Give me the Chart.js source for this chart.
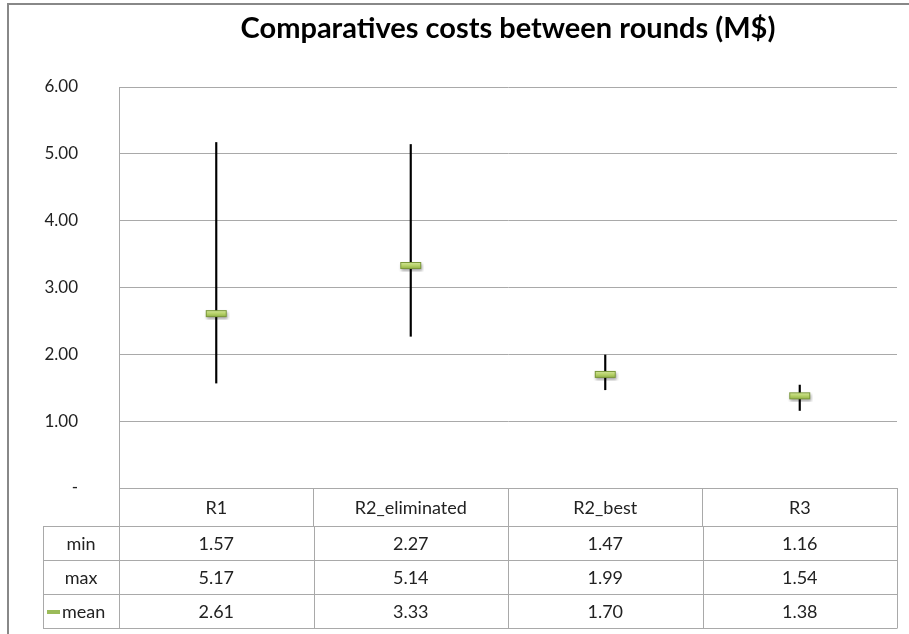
<!DOCTYPE html>
<html>
<head>
<meta charset="utf-8">
<script src="https://cdn.jsdelivr.net/npm/chart.js@4.4.0/dist/chart.umd.min.js"></script>
<style>
  html, body { margin: 0; padding: 0; background: #fff; }
  #wrap { width: 909px; height: 634px; position: relative; }
</style>
</head>
<body>
<div id="wrap"><canvas id="c" width="909" height="634"></canvas></div>
<script>
const categories = ['R1', 'R2_eliminated', 'R2_best', 'R3']
const minCost = [1.57, 2.27, 1.47, 1.16]
const maxCost = [5.17, 5.14, 1.99, 1.54]
const meanCost = [2.61, 3.33, 1.70, 1.38]
const rowLabels = ['min', 'max', 'mean']

const FONT = 'Lato, "Open Sans", sans-serif'
const GRID = '#a9a9a9'
const HEAD_H = 38
const ROW_H = 34
const TABLE_LEFT = 43
const PLOT_LEFT = 119

// little green bar used for the mean marker
function meanMarker() {
  const c = document.createElement('canvas')
  c.width = 27
  c.height = 13
  const g = c.getContext('2d')
  g.shadowColor = 'rgba(0,0,0,0.35)'
  g.shadowBlur = 3
  g.shadowOffsetX = 1
  g.shadowOffsetY = 2
  const grad = g.createLinearGradient(0, 3, 0, 10)
  grad.addColorStop(0, '#d6e6a0')
  grad.addColorStop(0.5, '#b7d36a')
  grad.addColorStop(1, '#8fae45')
  g.fillStyle = grad
  g.fillRect(3, 3, 21, 7)
  g.shadowColor = 'transparent'
  g.strokeStyle = '#7a973a'
  g.lineWidth = 1
  g.strokeRect(3.5, 3.5, 20, 6)
  return c
}

const frame = {
  id: 'frame',
  // centre the title over the plot area instead of the whole canvas
  afterLayout(chart) {
    if (chart.titleBlock) {
      chart.titleBlock.left = chart.chartArea.left
      chart.titleBlock.right = chart.chartArea.right
    }
  },
  beforeDraw(chart) {
    const ctx = chart.ctx
    ctx.save()
    ctx.strokeStyle = '#888'
    ctx.lineWidth = 2
    ctx.beginPath()
    ctx.moveTo(8, 634)
    ctx.lineTo(8, 4)
    ctx.lineTo(909, 4)
    ctx.stroke()
    ctx.restore()
  }
}

const dataTable = {
  id: 'dataTable',
  afterDraw(chart) {
    const ctx = chart.ctx
    const x = chart.scales.x
    const top = chart.chartArea.bottom + HEAD_H
    const step = x.getPixelForValue(1) - x.getPixelForValue(0)
    const rows = [minCost, maxCost, meanCost]
    ctx.save()
    ctx.strokeStyle = GRID
    ctx.lineWidth = 1
    ctx.beginPath()
    for (let r = 0; r <= rows.length; r++) {
      const y = Math.round(top + r * ROW_H) + 0.5
      ctx.moveTo(TABLE_LEFT, y)
      ctx.lineTo(x.right, y)
    }
    const bottom = top + rows.length * ROW_H + 0.5
    const vx = [TABLE_LEFT, x.left]
    categories.forEach((c, i) => vx.push(x.getPixelForValue(i) + step / 2))
    vx.forEach(v => {
      const px = Math.round(v) + 0.5
      ctx.moveTo(px, top)
      ctx.lineTo(px, bottom)
    })
    ctx.stroke()

    ctx.font = '18px ' + FONT
    ctx.fillStyle = '#222'
    ctx.textBaseline = 'middle'
    rows.forEach((vals, r) => {
      const cy = top + r * ROW_H + ROW_H / 2 + 1
      const label = rowLabels[r]
      if (label === 'mean') {
        ctx.fillStyle = '#9bbb59'
        ctx.fillRect(47, cy - 2, 13, 4)
        ctx.fillStyle = '#222'
        ctx.textAlign = 'left'
        ctx.fillText(label, 62, cy)
      } else {
        ctx.textAlign = 'center'
        ctx.fillText(label, (TABLE_LEFT + x.left) / 2, cy)
      }
      ctx.textAlign = 'center'
      vals.forEach((v, i) => ctx.fillText(v.toFixed(2), x.getPixelForValue(i), cy))
    })
    ctx.restore()
  }
}

new Chart(document.getElementById('c'), {
  data: {
    labels: categories,
    datasets: [
      {
        type: 'line',
        label: 'mean',
        data: meanCost,
        showLine: false,
        pointStyle: meanMarker(),
        pointRadius: 10,
        order: 0
      },
      {
        type: 'bar',
        label: 'range',
        data: categories.map((c, i) => [minCost[i], maxCost[i]]),
        backgroundColor: '#000',
        borderWidth: 0,
        barThickness: 1.5,
        grouped: false,
        order: 1
      }
    ]
  },
  options: {
    responsive: false,
    animation: false,
    layout: { padding: { left: 0, right: 12, top: 0, bottom: 0 } },
    plugins: {
      legend: { display: false },
      tooltip: { enabled: false },
      title: {
        display: true,
        text: 'Comparatives costs between rounds (M$)',
        color: '#000',
        font: { family: FONT, size: 29, weight: 'bold', lineHeight: 1.2 },
        padding: { top: 11, bottom: 41.2 }
      }
    },
    scales: {
      y: {
        min: 0,
        max: 6,
        afterFit(s) { s.width = PLOT_LEFT },
        ticks: {
          stepSize: 1,
          padding: 41,
          color: '#222',
          font: { family: FONT, size: 17 },
          callback: v => v === 0 ? '-' : v.toFixed(2)
        },
        grid: { color: GRID, drawTicks: false },
        border: { display: true, color: GRID }
      },
      x: {
        afterFit(s) { s.height = 634 - 488 },
        offset: true,
        ticks: {
          padding: -29,
          color: '#222',
          font: { family: FONT, size: 18 }
        },
        grid: {
          offset: true,
          drawOnChartArea: false,
          drawTicks: true,
          tickLength: HEAD_H,
          color: GRID
        },
        border: { display: true, color: GRID }
      }
    }
  },
  plugins: [frame, dataTable]
})
</script>
</body>
</html>
